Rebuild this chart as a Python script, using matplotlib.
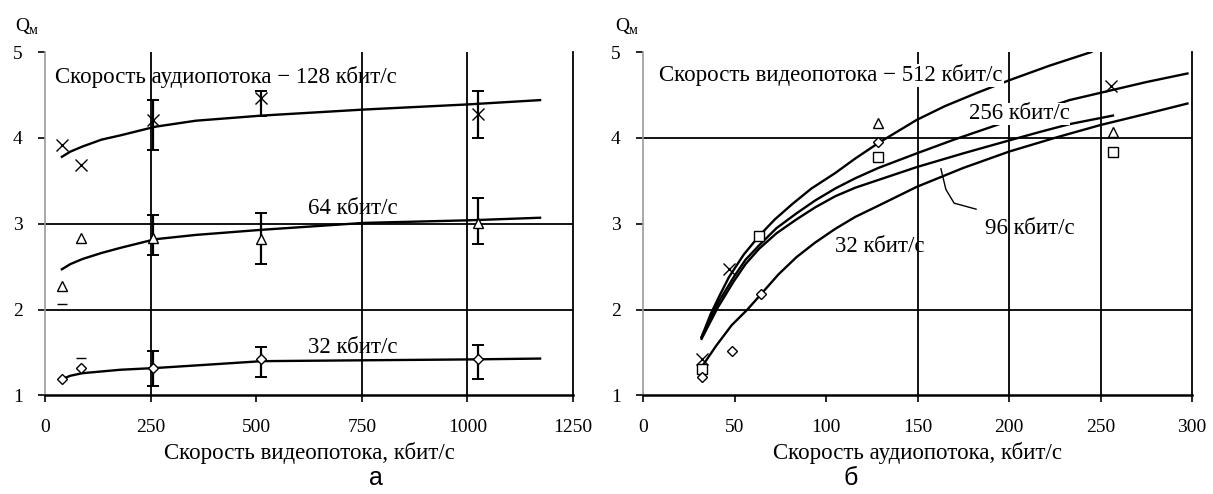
import matplotlib
matplotlib.use('Agg')
import matplotlib.pyplot as plt

# ---------------------------------------------------------------------------
# Data: panel (а) — quality vs video bitrate, one curve per audio bitrate
# ---------------------------------------------------------------------------
a_curve_x = [40, 60, 89, 134, 179, 261, 357, 514, 755, 1002, 1172]
a_fit_128 = [3.78, 3.84, 3.90, 3.98, 4.03, 4.13, 4.20, 4.26, 4.33, 4.39, 4.44]
a_fit_64  = [2.47, 2.53, 2.59, 2.66, 2.72, 2.82, 2.87, 2.93, 3.01, 3.04, 3.07]
a_fit_32  = [1.19, 1.23, 1.26, 1.28, 1.30, 1.32, 1.35, 1.40, 1.41, 1.42, 1.43]

a_pts_x   = [40, 85, 256, 512, 1024]
a_pts_128 = [3.92, 3.68, 4.21, 4.46, 4.28]
a_pts_64  = [2.27, 2.83, 2.83, 2.82, 3.01]
a_pts_32  = [1.19, 1.32, 1.32, 1.42, 1.42]

a_err_x      = [256, 512, 1024]
a_err_lo_128 = [3.86, 4.26, 4.00]
a_err_hi_128 = [4.44, 4.55, 4.55]
a_err_lo_64  = [2.64, 2.53, 2.77]
a_err_hi_64  = [3.10, 3.12, 3.30]
a_err_lo_32  = [1.11, 1.22, 1.19]
a_err_hi_32  = [1.52, 1.56, 1.59]

a_dash_x = [40, 85]
a_dash_y = [2.07, 1.44]

# ---------------------------------------------------------------------------
# Data: panel (б) — quality vs audio bitrate, one curve per video bitrate
# ---------------------------------------------------------------------------
b_x_512 = [32, 37, 42, 47, 55, 63.5, 72, 81.6, 92, 105, 116, 128.6, 149.6, 165, 182, 200, 222, 245]
b_y_512 = [1.68, 1.95, 2.17, 2.38, 2.64, 2.86, 3.05, 3.23, 3.41, 3.59, 3.76, 3.94, 4.21, 4.37, 4.52, 4.67, 4.84, 5.0]
b_x_256 = [32, 41, 49.6, 56, 63.5, 73, 83.8, 94, 105, 116, 128.6, 149.6, 170, 190.6, 212, 233, 255, 275, 297.5]
b_y_256 = [1.68, 2.08, 2.38, 2.58, 2.75, 2.95, 3.12, 3.27, 3.41, 3.53, 3.65, 3.82, 3.98, 4.13, 4.29, 4.44, 4.55, 4.65, 4.75]
b_x_96  = [32, 41, 49.6, 56, 63.5, 73, 83.8, 94, 105, 116, 128.6, 149.6, 175, 200, 217, 233, 256.8]
b_y_96  = [1.66, 2.03, 2.33, 2.53, 2.71, 2.89, 3.05, 3.19, 3.32, 3.42, 3.51, 3.66, 3.82, 3.97, 4.07, 4.16, 4.26]
b_x_32  = [32, 40, 48.5, 57, 64.5, 74, 83.8, 94, 105, 116, 128.6, 149.6, 175, 200, 225, 250, 275, 297.5]
b_y_32  = [1.33, 1.58, 1.82, 2.0, 2.18, 2.41, 2.61, 2.78, 2.94, 3.08, 3.21, 3.43, 3.65, 3.84, 4.00, 4.15, 4.28, 4.40]

b_cross_x = [32, 47, 255.8]
b_cross_y = [1.43, 2.47, 4.60]
b_tri_x   = [128.6, 256.8]
b_tri_y   = [4.17, 4.07]
b_sq_x    = [32, 63.5, 128.2, 256.8]
b_sq_y    = [1.31, 2.86, 3.78, 3.84]
b_dia_x   = [32, 48.5, 64.5, 128.6]
b_dia_y   = [1.21, 1.52, 2.18, 3.95]

# leader line from the 96 kbit/s curve to its label
lead_x = [162.8, 165.5, 170, 182]
lead_y = [3.64, 3.40, 3.24, 3.17]

SERIF = ['Liberation Serif', 'DejaVu Serif']
SANS = ['Liberation Sans', 'DejaVu Sans']
LINE_KW = dict(color='black', lw=1.7, zorder=3)
GRID_KW = dict(color='black', lw=1.3, zorder=1)
ERR_KW = dict(fmt='none', ecolor='black', elinewidth=1.6, capsize=4.5, capthick=1.4, zorder=4)
MK_KW = dict(ls='none', color='black', mfc='white', mew=1.0, zorder=5)
TXT = 16.5


def style_axes(ax, xlim, xticks):
    ax.set_xlim(*xlim)
    ax.set_ylim(1, 5)
    ax.set_xticks(xticks)
    ax.set_yticks([1, 2, 3, 4, 5])
    ax.spines['top'].set_visible(False)
    ax.spines['left'].set_color('#9a9a9a')
    ax.spines['left'].set_linewidth(1.2)
    ax.spines['right'].set_linewidth(1.3)
    ax.spines['bottom'].set_linewidth(1.8)
    ax.tick_params(axis='x', direction='out', length=5, width=1.2, pad=12,
                   labelsize=14)
    ax.tick_params(axis='y', direction='out', length=5, width=1.2, pad=11,
                   labelsize=14)
    for lab in ax.get_xticklabels() + ax.get_yticklabels():
        lab.set_fontfamily(SERIF)


def errbars(ax, x, lo, hi):
    mid = [(a + b) / 2 for a, b in zip(lo, hi)]
    half = [(b - a) / 2 for a, b in zip(lo, hi)]
    ax.errorbar(x, mid, yerr=half, **ERR_KW)


fig = plt.figure(figsize=(12.13, 4.94), dpi=100)
ax1 = fig.add_axes([0.0371, 0.1994, 0.4353, 0.6953])
ax2 = fig.add_axes([0.5301, 0.1994, 0.4526, 0.6953])

# ---------------------------------------------------------------------------
# Panel а
# ---------------------------------------------------------------------------
style_axes(ax1, (0, 1250), [0, 250, 500, 750, 1000, 1250])
for y in [2, 3]:
    ax1.axhline(y, **GRID_KW)
for x in [250, 750, 1000]:
    ax1.axvline(x, **GRID_KW)

ax1.plot(a_curve_x, a_fit_128, **LINE_KW)
ax1.plot(a_curve_x, a_fit_64, **LINE_KW)
ax1.plot(a_curve_x, a_fit_32, **LINE_KW)

errbars(ax1, a_err_x, a_err_lo_128, a_err_hi_128)
errbars(ax1, a_err_x, a_err_lo_64, a_err_hi_64)
errbars(ax1, a_err_x, a_err_lo_32, a_err_hi_32)

ax1.plot(a_pts_x, a_pts_128, marker='x', ms=9, **MK_KW)
ax1.plot(a_pts_x, a_pts_64, marker='^', ms=7, **MK_KW)
ax1.plot(a_pts_x, a_pts_32, marker='D', ms=5, **MK_KW)
ax1.plot(a_dash_x, a_dash_y, marker='_', ms=7, **MK_KW)

ax1.text(24, 4.71, 'Скорость аудиопотока − 128 кбит/с', family=SERIF,
         fontsize=TXT, ha='left', va='center', zorder=6)
ax1.text(728, 3.18, '64 кбит/с', family=SERIF, fontsize=TXT,
         ha='center', va='center', zorder=6)
ax1.text(728, 1.56, '32 кбит/с', family=SERIF, fontsize=TXT,
         ha='center', va='center', zorder=6)
ax1.set_xlabel('Скорость видеопотока, кбит/с', family=SERIF, fontsize=TXT,
               labelpad=4)

# ---------------------------------------------------------------------------
# Panel б
# ---------------------------------------------------------------------------
style_axes(ax2, (0, 300), [0, 50, 100, 150, 200, 250, 300])
for y in [2, 4]:
    ax2.axhline(y, **GRID_KW)
for x in [150, 200, 250]:
    ax2.axvline(x, **GRID_KW)

ax2.plot(b_x_512, b_y_512, **LINE_KW)
ax2.plot(b_x_256, b_y_256, **LINE_KW)
ax2.plot(b_x_96, b_y_96, **LINE_KW)
ax2.plot(b_x_32, b_y_32, **LINE_KW)
ax2.plot(lead_x, lead_y, color='black', lw=1.0, zorder=3)

ax2.plot(b_cross_x, b_cross_y, marker='x', ms=8, **MK_KW)
ax2.plot(b_tri_x, b_tri_y, marker='^', ms=7, **MK_KW)
ax2.plot(b_sq_x, b_sq_y, marker='s', ms=7, **MK_KW)
ax2.plot(b_dia_x, b_dia_y, marker='D', ms=5, **MK_KW)

ax2.text(9, 4.73, 'Скорость видеопотока − 512 кбит/с', family=SERIF,
         fontsize=TXT, ha='left', va='center', zorder=6,
         bbox=dict(fc='white', ec='none', pad=0.5))
ax2.text(178, 4.28, '256 кбит/с', family=SERIF, fontsize=TXT,
         ha='left', va='center', zorder=6,
         bbox=dict(fc='white', ec='none', pad=0.5))
ax2.text(187, 2.94, '96 кбит/с', family=SERIF, fontsize=TXT,
         ha='left', va='center', zorder=6)
ax2.text(105, 2.73, '32 кбит/с', family=SERIF, fontsize=TXT,
         ha='left', va='center', zorder=6)
ax2.set_xlabel('Скорость аудиопотока, кбит/с', family=SERIF, fontsize=TXT,
               labelpad=4)

# ---------------------------------------------------------------------------
# Axis captions and panel letters
# ---------------------------------------------------------------------------
for x0 in [15, 615]:
    fig.text(x0 / 1213, 1 - 27 / 494, 'Q', family=SERIF, fontsize=14,
             ha='left', va='center')
    fig.text((x0 + 14) / 1213, 1 - 31 / 494, 'м', family=SERIF, fontsize=10,
             ha='left', va='center')

fig.text(376 / 1213, 1 - 478 / 494, 'а', family=SANS, fontsize=18,
         ha='center', va='center')
fig.text(851 / 1213, 1 - 478 / 494, 'б', family=SANS, fontsize=18,
         ha='center', va='center')

fig.savefig('out.png', dpi=100)
